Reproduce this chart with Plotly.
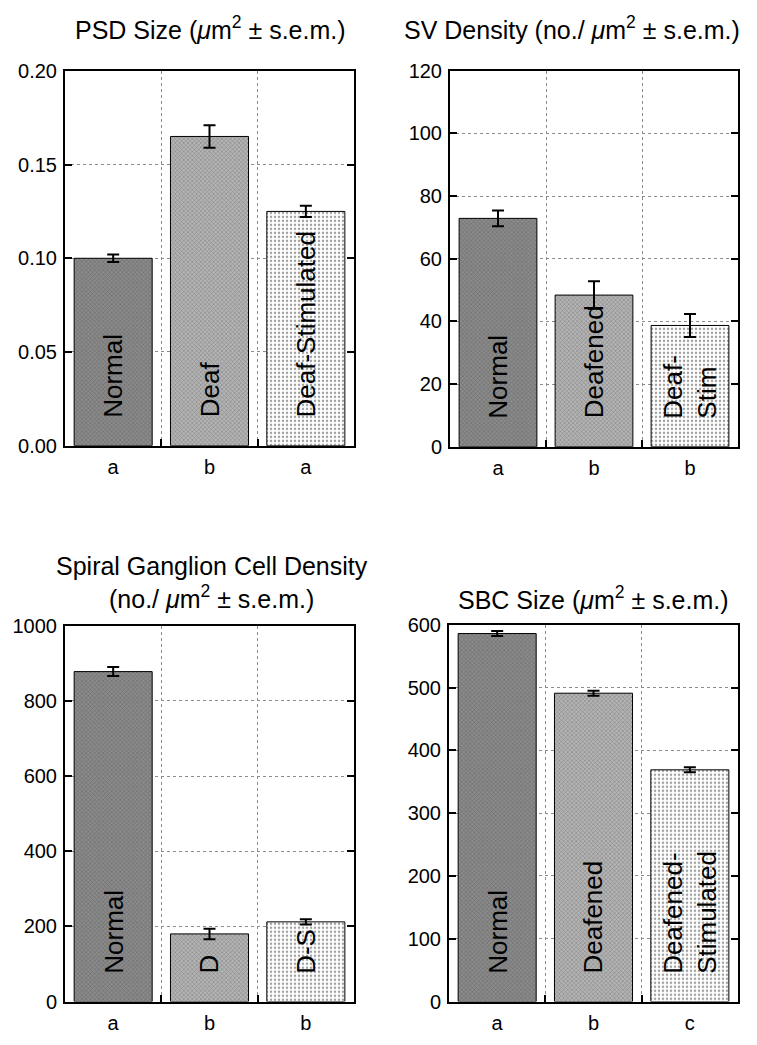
import plotly.graph_objects as go

# page is 757x1045; the browser adds an 8px body margin, so the figure is
# made 16px smaller and all reference pixel positions are shifted by -8
OFF = 8
W, H = 757 - 2 * OFF, 1045 - 2 * OFF

# ---------------- data ----------------
groups_p1 = ["Normal", "Deaf", "Deaf-Stimulated"]
letters_p1 = ["a", "b", "a"]
psd_size = [0.100, 0.165, 0.125]
psd_sem = [0.002, 0.006, 0.003]

groups_p2 = ["Normal", "Deafened", "Deaf-<br>Stim"]
letters_p2 = ["a", "b", "b"]
sv_density = [72.9, 48.4, 38.7]
sv_sem = [2.5, 4.4, 3.7]

groups_p3 = ["Normal", "D", "D-S"]
letters_p3 = ["a", "b", "b"]
sgc_density = [878, 180, 212]
sgc_sem = [12, 14, 7]

groups_p4 = ["Normal", "Deafened", "Deafened-<br>Stimulated"]
letters_p4 = ["a", "b", "c"]
sbc_size = [586, 491, 369]
sbc_sem = [4, 4, 4]

titles = [
    "PSD Size (<i>μ</i>m<sup>2</sup> ± s.e.m.)",
    "SV Density (no./ <i>μ</i>m<sup>2</sup> ± s.e.m.)",
    "Spiral Ganglion Cell Density<br>(no./ <i>μ</i>m<sup>2</sup> ± s.e.m.)",
    "SBC Size (<i>μ</i>m<sup>2</sup> ± s.e.m.)",
]
y_ranges = [[0, 0.20], [0, 120], [0, 1000], [0, 600]]
y_dticks = [0.05, 20, 200, 100]
y_formats = [".2f", "d", "d", "d"]

# ---------------- layout geometry (reference pixels) ----------------
px_x = [(65, 354), (450, 738), (65, 354), (449, 738)]
px_y = [(61, 444), (61, 445), (628, 1012), (627, 1012)]
title_pos = [(210, 17), (572, 17), (212, 584), (593, 600)]

FONT = "Liberation Sans, Arial, Helvetica, sans-serif"
bar_bg = ["#8a8a8a", "#b4b4b4", "white"]
bar_fg = ["#777777", "#a2a2a2", "black"]
bar_shape = ["x", "x", "."]
bar_size = [3, 3, 4]
bar_sol = [0.3, 0.3, 0.3]

panels = [
    (groups_p1, letters_p1, psd_size, psd_sem),
    (groups_p2, letters_p2, sv_density, sv_sem),
    (groups_p3, letters_p3, sgc_density, sgc_sem),
    (groups_p4, letters_p4, sbc_size, sbc_sem),
]


def fx(px):
    return (px - OFF) / W


def fy(py):
    return 1 - (py - OFF) / H


fig = go.Figure()
annotations = []
layout = dict(
    width=W, height=H,
    margin=dict(l=0, r=0, t=0, b=0),
    paper_bgcolor="white", plot_bgcolor="white",
    showlegend=False,
    font=dict(family=FONT, color="black", size=20),
    bargap=0.19,
)

for i, (groups, letters, vals, errs) in enumerate(panels):
    k = "" if i == 0 else str(i + 1)
    xs = list(range(len(vals)))
    fig.add_trace(go.Bar(
        x=xs, y=vals,
        xaxis="x" + k, yaxis="y" + k,
        marker=dict(
            color=bar_bg,
            line=dict(color="black", width=1),
            pattern=dict(shape=bar_shape, fgcolor=bar_fg, bgcolor=bar_bg,
                         size=bar_size, solidity=bar_sol),
        ),
        error_y=dict(type="data", array=errs, color="black", thickness=2, width=6),
        hoverinfo="skip",
    ))
    x0, x1 = px_x[i]
    y0, y1 = px_y[i]
    layout["xaxis" + k] = dict(
        domain=[fx(x0), fx(x1)], anchor="y" + k,
        range=[-0.5, 2.5],
        tickmode="array", tickvals=xs, ticktext=letters,
        ticks="", showgrid=False, zeroline=False,
        showline=True, linecolor="black", linewidth=2, mirror=True,
        tickfont=dict(size=20, family=FONT),
        ticklabelstandoff=2,
        minor=dict(tickmode="array", tickvals=[0.5, 1.5], ticks="inside",
                   ticklen=7, tickwidth=2, tickcolor="black",
                   showgrid=True, gridcolor="#8c8c8c", griddash="dot", gridwidth=1),
    )
    layout["yaxis" + k] = dict(
        domain=[fy(y1), fy(y0)], anchor="x" + k,
        range=y_ranges[i], dtick=y_dticks[i], tick0=0, tickformat=y_formats[i],
        ticks="inside", ticklen=7, tickwidth=2, tickcolor="black",
        showgrid=True, gridcolor="#8c8c8c", griddash="dot", gridwidth=1,
        zeroline=False,
        showline=True, linecolor="black", linewidth=2, mirror="ticks",
        tickfont=dict(size=20, family=FONT),
        ticklabelstandoff=2,
    )
    # bar labels (rotated, at bar base)
    for xi, g in zip(xs, groups):
        annotations.append(dict(
            x=xi, y=0, xref="x" + k, yref="y" + k,
            text=g, textangle=-90, showarrow=False,
            yanchor="bottom", xanchor="center", yshift=26, align="left",
            font=dict(size=26, family=FONT, color="black"),
        ))
    tx, ty = title_pos[i]
    annotations.append(dict(
        x=fx(tx), y=fy(ty), xref="paper", yref="paper",
        text=titles[i], showarrow=False, xanchor="center", yanchor="middle",
        font=dict(size=25, family=FONT, color="black"),
    ))

layout["annotations"] = annotations
fig.update_layout(**layout)
fig.write_html("out.html", config={"displayModeBar": False})
